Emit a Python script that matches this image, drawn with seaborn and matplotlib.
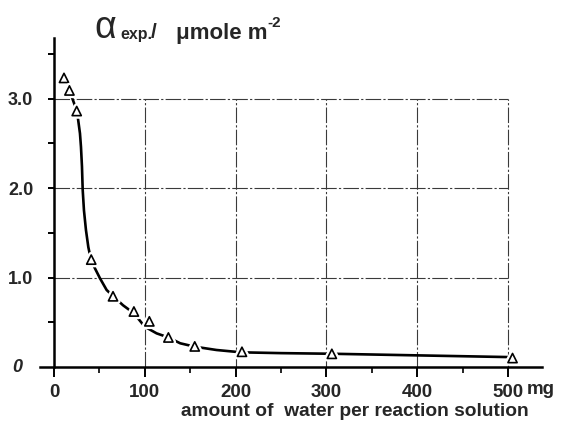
import matplotlib
matplotlib.use("Agg")
import matplotlib.pyplot as plt
import matplotlib.patheffects as pe
from matplotlib.ticker import FixedLocator
import seaborn as sns
import pandas as pd

# ---- data ----
water_mg = [11, 17, 25, 41, 65, 88, 105, 126, 155, 207, 306, 505]
alpha_exp = [3.23, 3.09, 2.86, 1.20, 0.79, 0.62, 0.51, 0.33, 0.23, 0.17, 0.147, 0.10]

curve_x = [17, 19.5, 22, 25.3, 28.6, 29.7, 30.8, 31.6, 33, 35.2, 37.8, 40.7, 45.2, 50.7,
           58, 65.3, 76, 88, 100, 113, 126, 139, 155, 179, 206, 250, 306, 400, 505]
curve_y = [3.09, 3.02, 2.95, 2.86, 2.61, 2.46, 2.24, 1.98, 1.75, 1.53, 1.34, 1.20, 1.10, 0.99,
           0.86, 0.79, 0.69, 0.60, 0.45, 0.376, 0.33, 0.265, 0.227, 0.19, 0.164, 0.155, 0.148, 0.13, 0.11]

x_ticks = [0, 100, 200, 300, 400, 500]
x_ticklabels = ["0", "100", "200", "300", "400", "500"]
y_ticks = [1, 2, 3]
y_ticklabels = ["1.0", "2.0", "3.0"]

pts = pd.DataFrame({"water": water_mg, "alpha": alpha_exp})
crv = pd.DataFrame({"water": curve_x, "alpha": curve_y})

sns.set_theme(style="white")
FAM = ["Liberation Sans", "DejaVu Sans"]
plt.rcParams["font.family"] = FAM
plt.rcParams["font.weight"] = "bold"

W, H = 566, 422
fig = plt.figure(figsize=(W / 100, H / 100), dpi=100)
ax = fig.add_axes([0.06332, 0.08791, 0.89837, 0.82713])
ax.set_xlim(-20, 540)
ax.set_ylim(-0.2, 3.7)

# grid (only inside 0..500 x 0..3)
grid_style = dict(color="#3a3a3a", lw=0.8, linestyles=[(0, (14, 2, 2, 2))], zorder=1)
ax.vlines(x_ticks[1:], 0, 3.0, **grid_style)
ax.hlines(y_ticks, 0, 500, **grid_style)

# fitted curve
sns.lineplot(data=crv, x="water", y="alpha", sort=False, color="black", lw=1.9,
             ax=ax, zorder=2, estimator=None)

# measured points
sns.scatterplot(data=pts, x="water", y="alpha", marker="^", s=44,
                facecolor="white", edgecolor="black", linewidth=1.2, ax=ax, zorder=3)
for coll in ax.collections:
    if coll.get_offsets().shape[0] == len(water_mg):
        coll.set_path_effects([pe.withStroke(linewidth=4.5, foreground="white")])

# spines
for s in ["top", "right"]:
    ax.spines[s].set_visible(False)
ax.spines["left"].set_position(("data", 0))
ax.spines["bottom"].set_position(("data", 0))
ax.spines["left"].set_bounds(0, 3.68)
ax.spines["bottom"].set_bounds(-15, 537)
for s in ["left", "bottom"]:
    ax.spines[s].set_color("black")
    ax.spines[s].set_linewidth(1.8)

ax.xaxis.set_major_locator(FixedLocator(x_ticks))
ax.set_xticklabels(x_ticklabels)
ax.xaxis.set_minor_locator(FixedLocator([50, 150, 250, 350, 450]))
ax.yaxis.set_major_locator(FixedLocator(y_ticks))
ax.set_yticklabels(y_ticklabels)
ax.yaxis.set_minor_locator(FixedLocator([0.5, 1.5, 2.5, 3.5]))

ax.tick_params(axis="x", which="major", direction="out", length=7, width=1.4,
               color="black", pad=5, labelsize=13.5, bottom=True)
ax.tick_params(axis="x", which="minor", direction="out", length=4.5, width=1.2,
               color="black", bottom=True)
ax.tick_params(axis="y", which="both", direction="out", length=4, width=1.4,
               color="black", pad=11, labelsize=13, left=True)
ax.set_xlabel("")
ax.set_ylabel("")
for lab in ax.get_xticklabels() + ax.get_yticklabels():
    lab.set_fontweight("bold")

def fx(px):
    return px / W

def fy(py):
    return 1 - py / H

# y "0" label
fig.text(fx(17), fy(367), "0", ha="center", va="center", fontsize=13,
         fontweight="bold", style="italic")
# unit after 500
fig.text(fx(527), fy(381), "mg", ha="left", va="top", fontsize=13.5, fontweight="bold")
# x-axis title
fig.text(fx(529), fy(416), "amount of  water per reaction solution", ha="right",
         va="baseline", fontsize=13.8, fontweight="bold")

# y-axis title pieces
fig.text(fx(94), fy(38), "α", ha="left", va="baseline", fontsize=27,
         fontweight="normal", family=["Liberation Sans", "DejaVu Sans"])
fig.text(fx(120), fy(38.5), "exp.", ha="left", va="baseline", fontsize=11.5, fontweight="bold")
fig.text(fx(151), fy(38.5), "/", ha="left", va="baseline", fontsize=15, fontweight="bold")
fig.text(fx(176), fy(38.5), "μmole m", ha="left", va="baseline", fontsize=16, fontweight="bold")
fig.text(fx(267), fy(27), "-2", ha="left", va="baseline", fontsize=11, fontweight="bold")

fig.savefig("out.png", dpi=100)
